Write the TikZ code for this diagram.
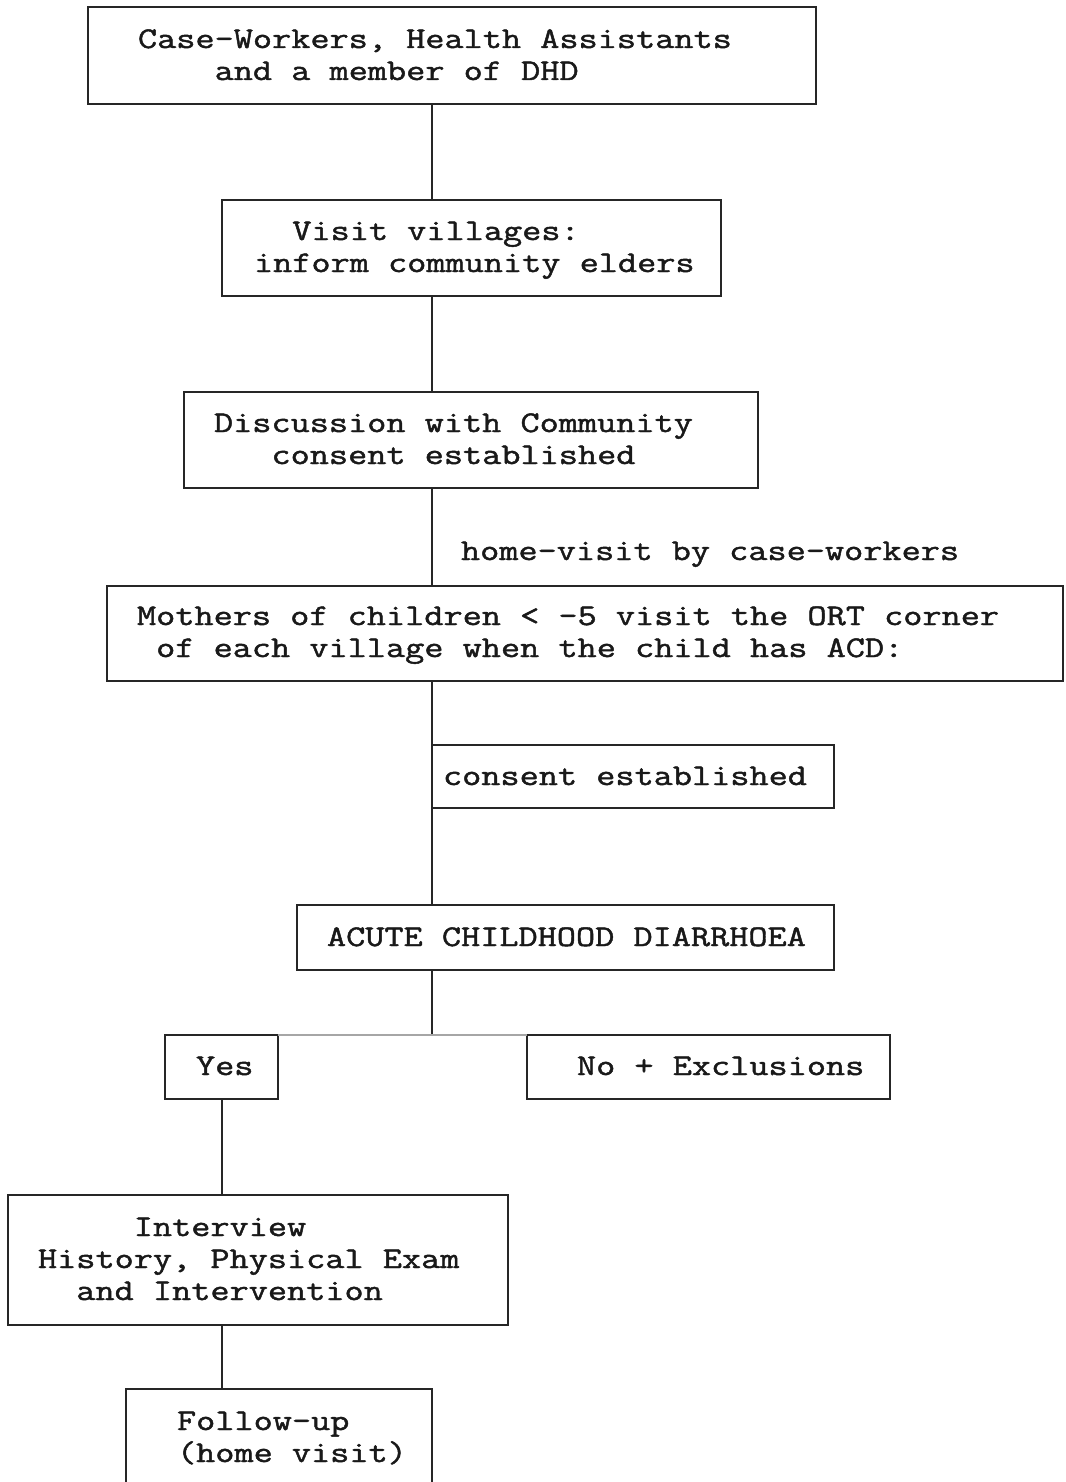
\documentclass[tikz,border=0pt]{standalone}
\usepackage{fontspec}
\newfontfamily\monofnt[FakeBold=1.5,FakeStretch=1.24]{Latin Modern Mono}
\begin{document}
\begin{tikzpicture}[x=1pt,y=-1pt,
  box/.style={draw=black!85,line width=1.7pt,inner sep=0pt,outer sep=0pt,rectangle},
  txt/.style={anchor=base west,inner sep=0pt,outer sep=0pt,align=left,font=\monofnt\fontsize{30}{32}\selectfont,text=black!90},
  conn/.style={draw=black!85,line width=1.7pt}]
\useasboundingbox (0,0) rectangle (1065,1482);
\clip (0,0) rectangle (1065,1482);
\fill[white] (0,0) rectangle (1065,1482);
% boxes
\node[box,minimum width=728pt,minimum height=97pt] (b1) at (452,55.5) {};
\node[box,minimum width=499pt,minimum height=96pt] (b2) at (471.5,248) {};
\node[box,minimum width=574pt,minimum height=96pt] (b3) at (471,440) {};
\node[box,minimum width=956pt,minimum height=95pt] (b4) at (585,633.5) {};
\node[box,minimum width=402pt,minimum height=63pt] (b5) at (633,776.5) {};
\node[box,minimum width=537pt,minimum height=65pt] (b6) at (565.5,937.5) {};
\node[box,minimum width=113pt,minimum height=64pt] (yes) at (221.5,1067) {};
\node[box,minimum width=363pt,minimum height=64pt] (no) at (708.5,1067) {};
\node[box,minimum width=500pt,minimum height=130pt] (intv) at (258,1260) {};
\node[box,minimum width=306pt,minimum height=121pt] (fol) at (279,1449.5) {};
\coordinate (spine) at (432,0);
\coordinate (branch) at (222,0);
% texts (base anchor = baseline of last line)
\node[txt] (t1) at (138,80) {Case-Workers, Health Assistants\\\phantom{Case}and a member of DHD};
\node[txt] (t2) at (254,272) {\phantom{xx}Visit villages:\\inform community elders};
\node[txt] (t3) at (214,464) {Discussion with Community\\\phantom{xxx}consent established};
\node[txt] (lab) at (461,560) {home-visit by case-workers};
\node[txt] (t4) at (137,657) {Mothers of children < -5 visit the ORT corner\\\phantom{x}of each village when the child has ACD:};
\node[txt] (t5) at (443,785) {consent established};
\node[txt] (t6) at (327,946) {ACUTE CHILDHOOD DIARRHOEA};
\node[txt] (t7) at (196,1075) {Yes};
\node[txt] (t8) at (577,1075) {No + Exclusions};
\node[txt] (t9) at (38,1300) {\phantom{xxxxx}Interview\\History, Physical Exam\\\phantom{xx}and Intervention};
\node[txt] (t10) at (177,1462) {Follow-up\\(home visit)};
% connectors
\draw[conn] (b1.south -| spine) -- (b2.north -| spine);
\draw[conn] (b2.south -| spine) -- (b3.north -| spine);
\draw[conn] (b3.south -| spine) -- (b4.north -| spine);
\draw[conn] (b4.south -| spine) -- (b6.north -| spine);
\draw[conn] (b6.south -| spine) -- (yes.north -| spine);
\draw[draw=black!35,line width=1.2pt] (yes.north east) -- (no.north west);
\draw[conn] (yes.south -| branch) -- (intv.north -| branch);
\draw[conn] (intv.south -| branch) -- (fol.north -| branch);
\end{tikzpicture}
\end{document}
